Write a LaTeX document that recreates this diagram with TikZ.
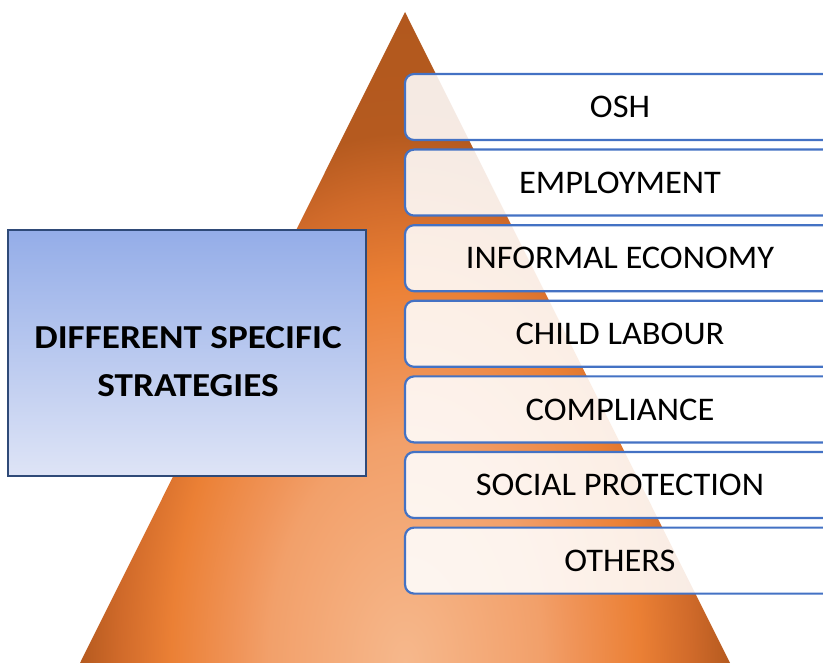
\documentclass[tikz,border=0pt]{standalone}
\usepackage{fontspec}
\setmainfont{Carlito}
\newfontfamily\itemfont[FakeStretch=1.044]{Carlito}
\newfontfamily\headfont[FakeStretch=1.11]{Carlito Bold}

% pyramid gradient: light at the base centre, deep orange-brown at the rim
\definecolor{pyrA}{HTML}{F6B88C}
\definecolor{pyrB}{HTML}{F2A06A}
\definecolor{pyrC}{HTML}{F0955A}
\definecolor{pyrD}{HTML}{EB8035}
\definecolor{pyrE}{HTML}{D06A2A}
\definecolor{pyrF}{HTML}{B55A1F}
\definecolor{pyrG}{HTML}{AE561C}
\definecolor{itemblue}{HTML}{4472C4}
\definecolor{titletop}{HTML}{94ADE8}
\definecolor{titlebot}{HTML}{DEE4F6}
\definecolor{titleedge}{HTML}{2F4A78}

% the path's bounding box maps onto +-25bp, so 25bp is the ellipse rim (t = 1.5)
\pgfdeclareradialshading{pyrshade}{\pgfpoint{0bp}{0bp}}{%
  color(0bp)=(pyrA); color(7bp)=(pyrB); color(8.5bp)=(pyrC);
  color(12bp)=(pyrD); color(14.67bp)=(pyrE); color(16.67bp)=(pyrF);
  color(25bp)=(pyrG); color(50bp)=(pyrG)}

\tikzset{
  itembox/.style={draw=itemblue, line width=2.2pt, fill=white,
    fill opacity=0.88, text opacity=1, rounded corners=9pt,
    minimum width=430pt, minimum height=66pt, inner sep=0pt,
    text height=21.5pt, text depth=0pt,
    font=\itemfont\fontsize{33}{40}\selectfont},
  titlebox/.style={draw=titleedge, line width=1.5pt,
    top color=titletop, bottom color=titlebot,
    minimum width=358pt, minimum height=246pt, inner sep=0pt},
  titletext/.style={align=center, inner sep=0pt,
    font=\headfont\fontsize{33.5}{48}\selectfont}
}

\begin{document}
\begin{tikzpicture}[x=1pt,y=-1pt]
\useasboundingbox (0,0) rectangle (823,663);
\clip (0,0) rectangle (823,663);

% the pyramid
\begin{scope}
  \clip (405,12) -- (730,663) -- (80,663) -- cycle;
  \shade[shading=pyrshade] (405,663) ellipse [x radius=487.5pt, y radius=795pt];
\end{scope}

% heading box on the left
\node[titlebox] (strat) at (187,353) {};
\node[titletext] (stratlabel) at (188,361.5) {DIFFERENT SPECIFIC\\STRATEGIES};

% strategy bars on the right
\foreach \lab [count=\i from 0] in {OSH, EMPLOYMENT, INFORMAL ECONOMY,
    CHILD LABOUR, COMPLIANCE, SOCIAL PROTECTION, OTHERS}
  \node[itembox] (item\i) at (620,107+75.6*\i) {\lab};
\end{tikzpicture}
\end{document}
